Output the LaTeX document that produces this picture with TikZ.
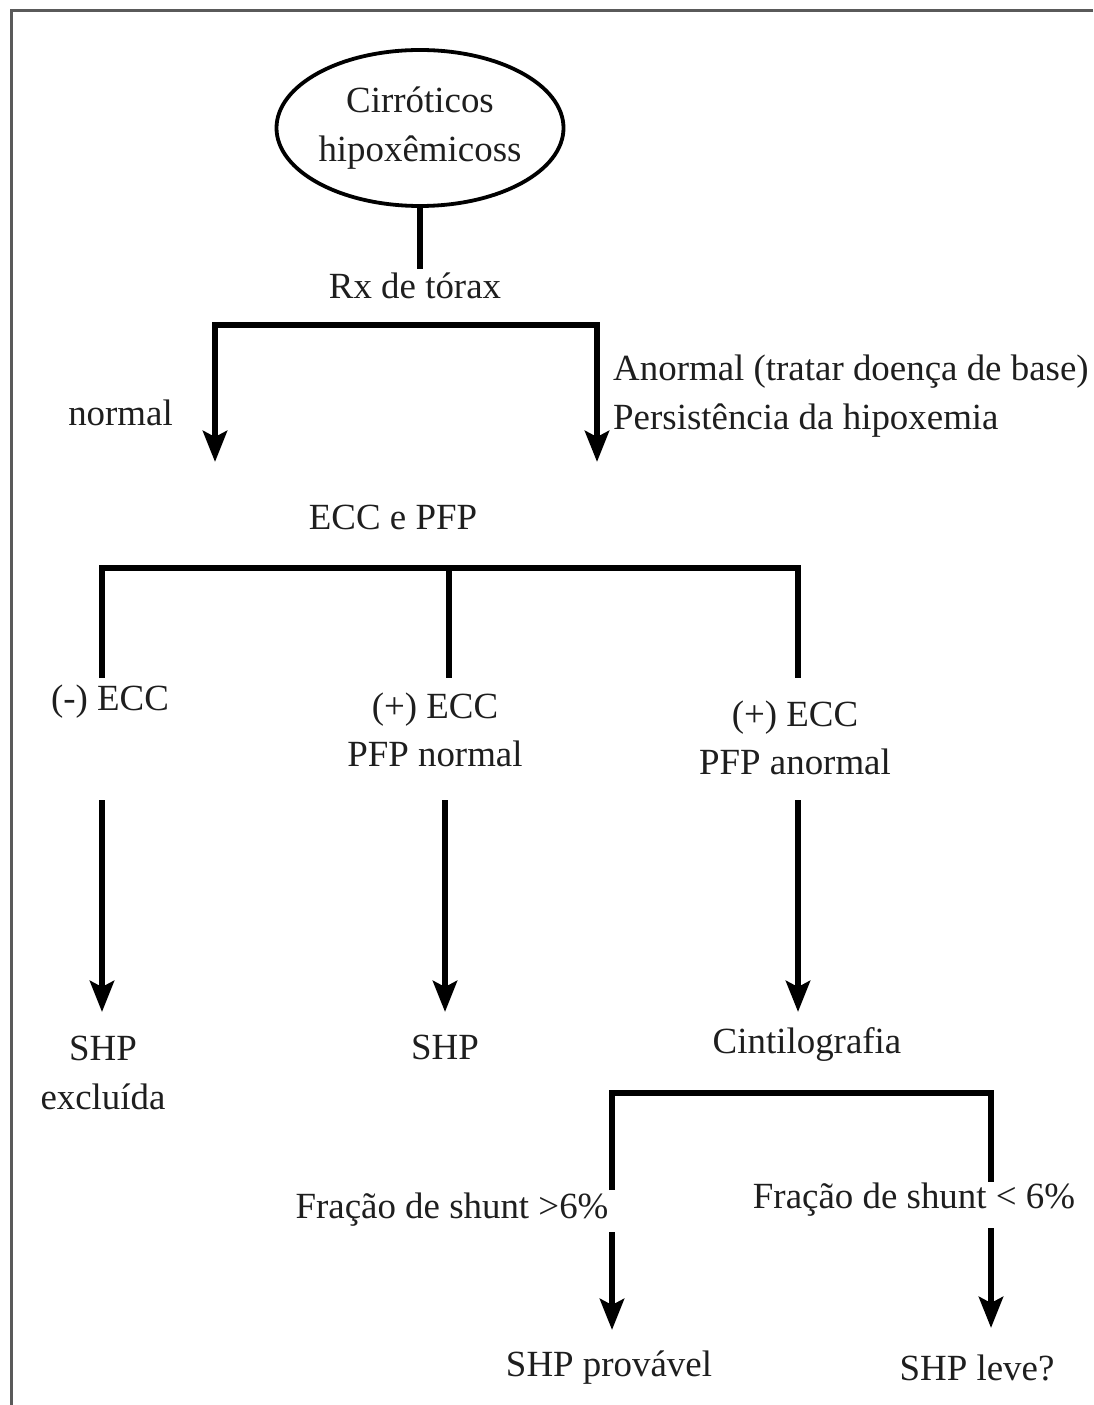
\documentclass[tikz,border=0pt]{standalone}
\usepackage{fontspec}
\setmainfont{Liberation Serif}
\usetikzlibrary{arrows.meta,shapes.geometric}
\usepackage{xcolor}
\definecolor{inkgray}{RGB}{30,30,30}
\definecolor{framegray}{RGB}{90,90,90}

\begin{document}
\begin{tikzpicture}[
  x=0.1mm, y=-0.1mm,
  lbl/.style={font=\fontsize{10.5}{13.8}\selectfont, text=inkgray, align=center, inner sep=1pt},
  oval/.style={ellipse, draw=black, line width=0.38mm, minimum width=28.6mm, minimum height=15.6mm, inner sep=0pt, align=center, font=\fontsize{10.5}{13.8}\selectfont, text=inkgray},
  ln/.style={line width=0.62mm, draw=black},
  arr/.style={ln, -{Stealth[length=3.1mm, width=2.4mm, inset=0.6mm]}},
  arrtwo/.style={ln, {Stealth[length=3.1mm, width=2.4mm, inset=0.6mm]}-{Stealth[length=3.1mm, width=2.4mm, inset=0.6mm]}},
  frame/.style={draw=framegray, line width=0.3mm}
]
\useasboundingbox (0,0) rectangle (1093,1405);
\draw[frame] (1093,11) -- (11,11) -- (11,1405);

% top
\node[oval] (cirr) at (420,128) {Cirróticos\\hipoxêmicoss};
\node[lbl] (rx) at (415,286) {Rx de tórax};
\draw[ln] (cirr.south) -- (cirr.south |- rx.north);

% first split
\coordinate (b1l) at (215,325);
\coordinate (b1r) at (597,325);
\coordinate (b1le) at (215,462);
\coordinate (b1re) at (597,462);
\draw[arrtwo] (b1le) -- (b1l) -- (b1r) -- (b1re);
\node[lbl, anchor=east] (nrm) at (177,413) {normal};
\node[lbl, anchor=west, align=left] (anorm) at (609,396) {Anormal (tratar doença de base)\\Persistência da hipoxemia};

% second split
\node[lbl] (eccpfp) at (393,517) {ECC e PFP};
\coordinate (b2l) at (102,568);
\coordinate (b2m) at (449,568);
\coordinate (b2r) at (798,568);
\coordinate (b2le) at (102,678);
\coordinate (b2me) at (449,678);
\coordinate (b2re) at (798,678);
\draw[ln] (b2le) -- (b2l) -- (b2r) -- (b2re);
\draw[ln] (b2m) -- (b2me);

\node[lbl] (negecc) at (110,702) {(-) ECC};
\node[lbl] (pfpn) at (435,730) {(+) ECC\\PFP normal};
\node[lbl] (pfpa) at (795,738) {(+) ECC\\PFP anormal};

\coordinate (a1s) at (102,800);
\coordinate (a1e) at (102,1012);
\coordinate (a2s) at (445,800);
\coordinate (a2e) at (445,1012);
\coordinate (a3s) at (798,800);
\coordinate (a3e) at (798,1012);
\draw[arr] (a1s) -- (a1e);
\draw[arr] (a2s) -- (a2e);
\draw[arr] (a3s) -- (a3e);

\node[lbl] (shpex) at (103,1073) {SHP\\excluída};
\node[lbl] (shp) at (445,1047) {SHP};
\node[lbl] (cinti) at (807,1044) {Cintilografia};

% third split
\coordinate (b3l) at (612,1093);
\coordinate (b3r) at (991,1093);
\coordinate (b3le) at (612,1190);
\coordinate (b3re) at (991,1182);
\draw[ln] (b3le) -- (b3l) -- (b3r) -- (b3re);

\node[lbl] (fr1) at (452,1210) {Fração de shunt >6\%};
\node[lbl] (fr2) at (914,1200) {Fração de shunt < 6\%};

\coordinate (a4s) at (612,1232);
\coordinate (a4e) at (612,1330);
\coordinate (a5s) at (991,1228);
\coordinate (a5e) at (991,1328);
\draw[arr] (a4s) -- (a4e);
\draw[arr] (a5s) -- (a5e);

\node[lbl] (shpprov) at (609,1368) {SHP provável};
\node[lbl] (shpleve) at (977,1368) {SHP leve?};
\end{tikzpicture}
\end{document}
